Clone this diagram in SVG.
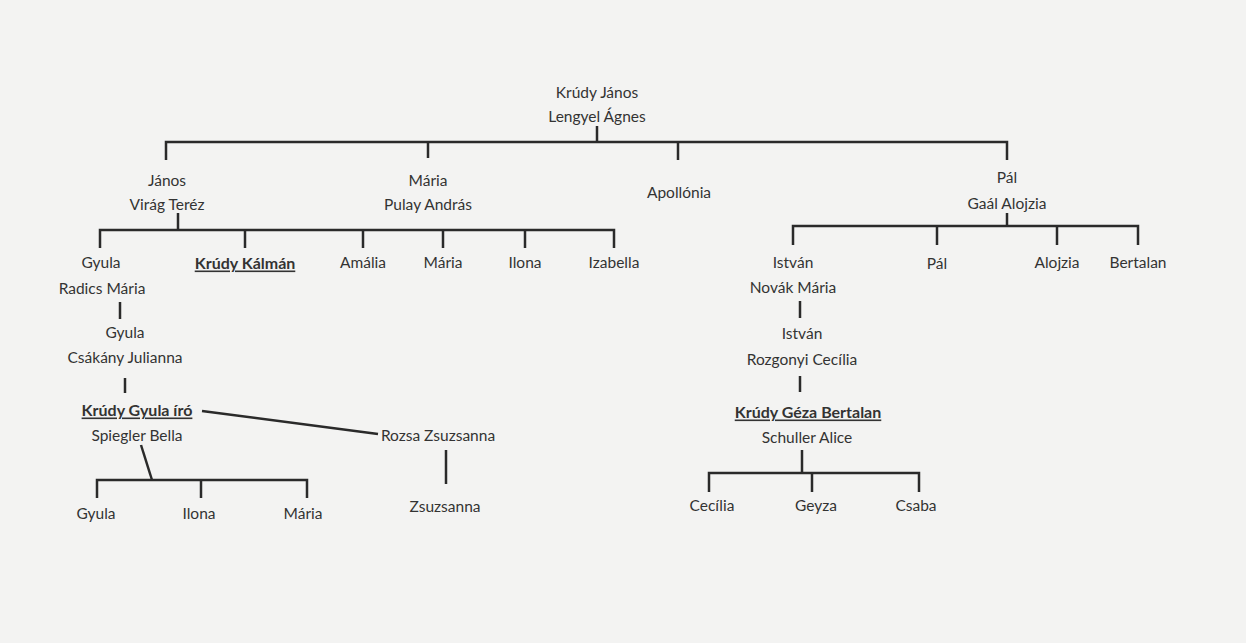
<svg xmlns="http://www.w3.org/2000/svg" width="1246" height="643" viewBox="0 0 1246 643">
<style>
text{font-family:Lato,"Liberation Sans",sans-serif;font-size:15.5px;fill:#333;text-anchor:middle;dominant-baseline:central}
.b{font-weight:bold;text-decoration:underline;font-size:16px}
.c line,.c polyline{stroke:#2a2a2a;stroke-width:2.5;fill:none}
</style>
<rect width="1246" height="643" fill="#f3f3f2"/>
<g class="c" id="connectors">
<line x1="597" y1="126" x2="597" y2="142"/>
<polyline points="166,160 166,142 1007,142 1007,160"/>
<line x1="428" y1="142" x2="428" y2="158"/>
<line x1="678" y1="142" x2="678" y2="160"/>
<line x1="178" y1="213" x2="178" y2="230"/>
<polyline points="100,248 100,230 614,230 614,248"/>
<line x1="245" y1="230" x2="245" y2="248"/>
<line x1="363" y1="230" x2="363" y2="248"/>
<line x1="443" y1="230" x2="443" y2="248"/>
<line x1="525" y1="230" x2="525" y2="248"/>
<line x1="1007" y1="213" x2="1007" y2="226"/>
<polyline points="793,245 793,226 1138,226 1138,245"/>
<line x1="937" y1="226" x2="937" y2="245"/>
<line x1="1057" y1="226" x2="1057" y2="245"/>
<line x1="120" y1="302" x2="120" y2="319"/>
<line x1="125" y1="378" x2="125" y2="393"/>
<line x1="202" y1="411" x2="378" y2="434"/>
<line x1="446" y1="450" x2="446" y2="484"/>
<line x1="141" y1="445" x2="152" y2="480"/>
<polyline points="97,498 97,480 307,480 307,498"/>
<line x1="201" y1="480" x2="201" y2="498"/>
<line x1="800" y1="301" x2="800" y2="318"/>
<line x1="800" y1="376" x2="800" y2="392"/>
<line x1="802" y1="450" x2="802" y2="473"/>
<polyline points="709,492 709,473 919,473 919,492"/>
<line x1="812" y1="473" x2="812" y2="492"/>
</g>
<g id="root"><text x="597" y="92">Krúdy János</text><text x="597" y="116">Lengyel Ágnes</text></g>
<g id="janos"><text x="167" y="180">János</text><text x="167" y="204">Virág Teréz</text></g>
<g id="maria1"><text x="428" y="180">Mária</text><text x="428" y="204">Pulay András</text></g>
<g id="apollonia"><text x="679" y="192">Apollónia</text></g>
<g id="pal"><text x="1007" y="177">Pál</text><text x="1007" y="203">Gaál Alojzia</text></g>
<g id="gyula1"><text x="101" y="262">Gyula</text><text x="102" y="288">Radics Mária</text></g>
<g id="kalman"><text class="b" x="245" y="262">Krúdy Kálmán</text></g>
<g id="amalia"><text x="363" y="262">Amália</text></g>
<g id="maria2"><text x="443" y="262">Mária</text></g>
<g id="ilona1"><text x="525" y="262">Ilona</text></g>
<g id="izabella"><text x="614" y="262">Izabella</text></g>
<g id="gyula2"><text x="125" y="332">Gyula</text><text x="125" y="357">Csákány Julianna</text></g>
<g id="gyulairo"><text class="b" x="137" y="409">Krúdy Gyula író</text><text x="137" y="435">Spiegler Bella</text></g>
<g id="rozsa"><text x="438" y="435">Rozsa Zsuzsanna</text></g>
<g id="zsuzsanna"><text x="445" y="506">Zsuzsanna</text></g>
<g id="gyula3"><text x="96" y="513">Gyula</text></g>
<g id="ilona2"><text x="199" y="513">Ilona</text></g>
<g id="maria3"><text x="303" y="513">Mária</text></g>
<g id="istvan1"><text x="793" y="262">István</text><text x="793" y="287">Novák Mária</text></g>
<g id="pal2"><text x="937" y="263">Pál</text></g>
<g id="alojzia"><text x="1057" y="262">Alojzia</text></g>
<g id="bertalan"><text x="1138" y="262">Bertalan</text></g>
<g id="istvan2"><text x="802" y="333">István</text><text x="802" y="359">Rozgonyi Cecília</text></g>
<g id="geza"><text class="b" x="808" y="411">Krúdy Géza Bertalan</text><text x="807" y="437">Schuller Alice</text></g>
<g id="cecilia"><text x="712" y="505">Cecília</text></g>
<g id="geyza"><text x="816" y="505">Geyza</text></g>
<g id="csaba"><text x="916" y="505">Csaba</text></g>
</svg>
